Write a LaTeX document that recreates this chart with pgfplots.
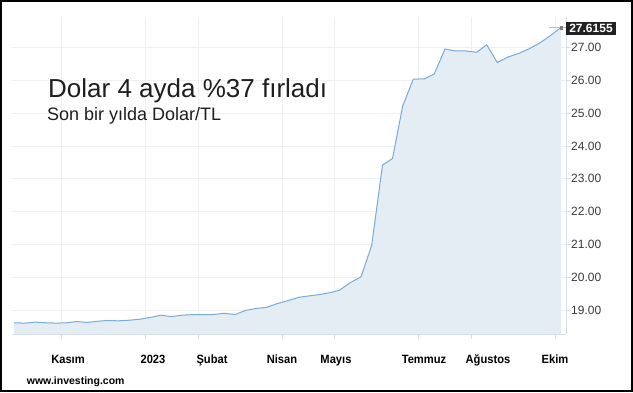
\documentclass[border=0pt]{standalone}
\usepackage{pgfplots}
\pgfplotsset{compat=1.18}
\usepackage{pgfplotstable}
\usepackage{fontspec}
\setmainfont{Liberation Sans}
\newfontfamily\narrow[FakeStretch=0.93]{Liberation Sans}
\definecolor{linecol}{HTML}{7AAAD6}
\definecolor{fillcol}{HTML}{E4ECF4}
\definecolor{gridcol}{HTML}{EEF0F3}
\definecolor{axiscol}{HTML}{D8DEE6}
\definecolor{ticktext}{HTML}{3A3A3A}
\definecolor{pricered}{HTML}{F2A3A3}
\definecolor{boxblack}{HTML}{222222}
\definecolor{titlecol}{HTML}{1E1E1E}

\pgfplotstableread{
x y
14 18.61
25 18.60
35 18.63
46.7 18.61
56.7 18.60
66.7 18.61
76.7 18.65
86.7 18.62
98.3 18.66
108.3 18.68
118.3 18.67
130 18.69
140 18.72
150 18.77
160.7 18.84
171.7 18.80
181.7 18.84
193.3 18.86
203.3 18.86
213.3 18.86
224 18.90
235 18.86
245.7 18.99
256.7 19.05
266.7 19.08
276.7 19.19
288.3 19.29
299.3 19.39
311.7 19.44
321.7 19.48
330 19.53
339.3 19.60
350 19.83
361 20.01
371.7 20.97
382.5 23.42
392.5 23.62
402.7 25.22
413.3 26.04
424.3 26.05
434.3 26.20
445 26.96
456 26.90
466 26.90
476.7 26.86
486.7 27.09
497.3 26.55
508.3 26.72
518.3 26.82
529.3 26.97
540 27.15
550 27.36
561 27.6155
}\usd

\begin{document}
\begin{tikzpicture}
\useasboundingbox (0,0) rectangle (633pt,-392pt);
\fill[white] (0,0) rectangle (633pt,-392pt);
\begin{axis}[
  at={(12pt,-334pt)}, anchor=south west,
  scale only axis, width=554pt, height=317pt,
  xmin=12, xmax=566, ymin=18.268, ymax=27.936,
  axis x line*=bottom, axis y line*=right,
  axis line style={axiscol, line width=0.8pt},
  tick style={axiscol, line width=0.8pt},
  tick align=outside, major tick length=5pt,
  grid=major, major grid style={gridcol, line width=0.8pt},
  xtick={61.5,145.5,198,282.6,334.3,418.3,471.5,555.5},
  xticklabels={},
  extra x ticks={68,153,212,282,336,424,488,555},
  extra x tick labels={Kasım,2023,Şubat,Nisan,Mayıs,Temmuz,Ağustos,Ekim},
  extra x tick style={grid=none, major tick length=0pt,
    tick label style={font=\narrow\bfseries\fontsize{12}{13}\selectfont, text=black, anchor=base, yshift=-29pt, inner sep=0pt}},
  ytick={19,20,...,27},
  yticklabel pos=right,
  yticklabel style={font=\fontsize{12}{13}\selectfont, text=ticktext, anchor=west, inner sep=0pt},
  yticklabel={\pgfmathprintnumber[fixed,fixed zerofill,precision=2,assume math mode=true]{\tick}},
]
\addplot[fill=fillcol, draw=none] table[x=x,y=y]{\usd} \closedcycle;
\addplot[linecol, line width=1pt] table[x=x,y=y]{\usd};
\addplot[pricered, line width=0.9pt] coordinates {(549,27.6155) (566,27.6155)};
\addplot[only marks, mark=square*, mark size=1.3pt, color=gray] coordinates {(561,27.6155)};
\end{axis}
\node[fill=boxblack, text=white, font=\bfseries\fontsize{12}{13}\selectfont, minimum width=50pt, minimum height=13.5pt, inner sep=0pt] at (591pt,-28.4pt) {27.6155};
\node[anchor=base west, inner sep=0pt, text=titlecol, font=\fontsize{26}{30}\selectfont] at (48pt,-97.3pt) {Dolar 4 ayda \%37 fırladı};
\node[anchor=base west, inner sep=0pt, text=titlecol, font=\fontsize{18}{21}\selectfont] at (47pt,-120pt) {Son bir yılda Dolar/TL};
\node[anchor=base west, inner sep=0pt, text=black, font=\bfseries\fontsize{10.5}{12}\selectfont] at (26.7pt,-384.3pt) {www.investing.com};
\draw[black, line width=2pt] (1pt,-1pt) rectangle (632pt,-391pt);
\end{tikzpicture}
\end{document}
